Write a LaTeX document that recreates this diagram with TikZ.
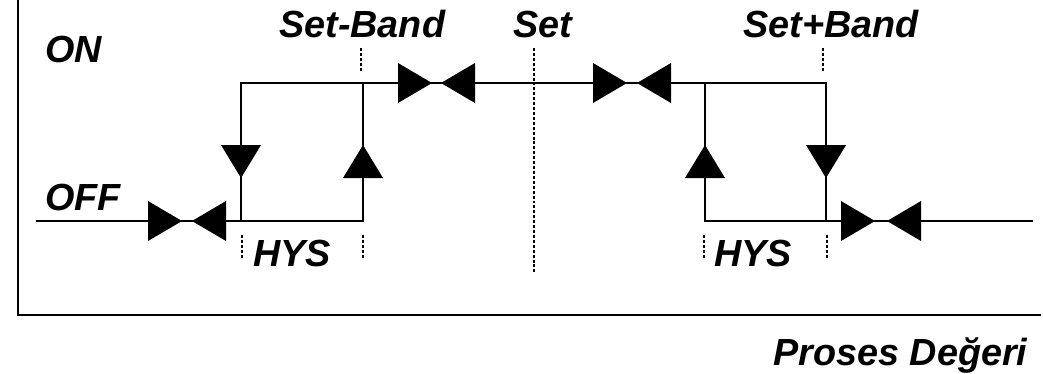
\documentclass[tikz,border=0pt]{standalone}
\usepackage{fontspec}
\setmainfont{Liberation Sans}

\def\tipright#1{\fill #1 -- ++(-34,-20) -- ++(0,40) -- cycle;}
\def\tipleft#1{\fill #1 -- ++(34,-20) -- ++(0,40) -- cycle;}
\def\tipdown#1{\fill #1 -- ++(-20,-33) -- ++(40,0) -- cycle;}
\def\tipup#1{\fill #1 -- ++(-20,33) -- ++(40,0) -- cycle;}

\tikzset{
  signal/.style={line width=1.5pt},
  axisline/.style={line width=1.5pt},
  guide/.style={line width=1pt, dash pattern=on 1.7pt off 1.1pt},
  lbl/.style={inner sep=0pt, anchor=base west, font=\fontsize{21.5}{26}\selectfont\bfseries\itshape}
}

\begin{document}
\begin{tikzpicture}[x=0.02cm, y=-0.02cm]
  \useasboundingbox (0,0) rectangle (1043,373);
  % axes
  \coordinate (top) at (18,0);
  \coordinate (origin) at (18,315);
  \coordinate (xend) at (1041,315);
  \draw[axisline] (top) -- (origin) -- (xend);
  % switching curve
  \coordinate (offL) at (36,221);
  \coordinate (a1) at (241,221);
  \coordinate (a2) at (363,221);
  \coordinate (a3) at (363,83);
  \coordinate (a4) at (241,83);
  \coordinate (b1) at (705,83);
  \coordinate (b2) at (705,221);
  \coordinate (b3) at (826,221);
  \coordinate (b4) at (826,83);
  \coordinate (offR) at (1033,221);
  \draw[signal] (offL) -- (a1) -- (a4) -- (b4) -- (b3) -- (offR);
  \draw[signal] (a1) -- (a2) -- (a3);
  \draw[signal] (b1) -- (b2) -- (b3);
  % arrow heads
  \tipright{(182,221)} \tipleft{(192,221)}
  \tipright{(432,83)}  \tipleft{(441,83)}
  \tipright{(627,83)}  \tipleft{(637,83)}
  \tipright{(875,221)} \tipleft{(887,221)}
  \tipdown{(241,178)}  \tipup{(363,145)}
  \tipup{(705,145)}    \tipdown{(826,178)}
  % guide lines
  \draw[guide] (534,48) -- (534,273);
  \draw[guide] (361,48) -- (361,72);
  \draw[guide] (823,48) -- (823,72);
  \foreach \gx in {242,363,704,827}
    \draw[guide] (\gx,235) -- (\gx,258);
  % labels
  \node[lbl] (on) at (45,62) {ON};
  \node[lbl] (off) at (45,210) {OFF};
  \node[lbl] (setminus) at (279,37) {Set-Band};
  \node[lbl] (set) at (513,37) {Set};
  \node[lbl] (setplus) at (743,37) {Set+Band};
  \node[lbl] (hysL) at (253,266) {HYS};
  \node[lbl] (hysR) at (714,266) {HYS};
  \node[lbl] (pv) at (773,365) {Proses Değeri};
\end{tikzpicture}
\end{document}
